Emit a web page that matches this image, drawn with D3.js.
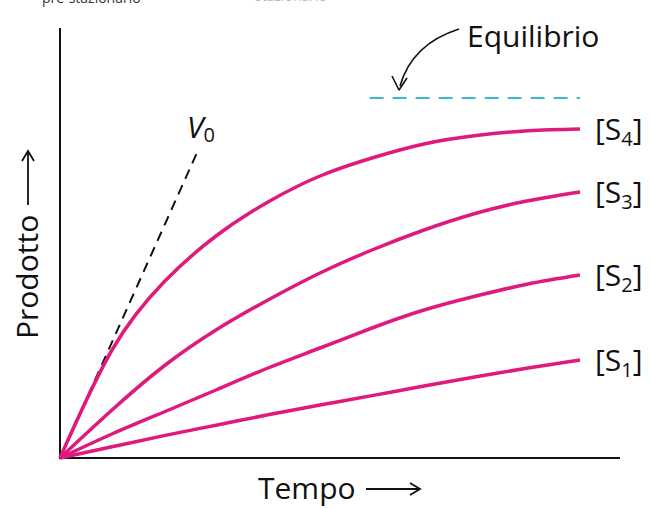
<!DOCTYPE html>
<html>
<head>
<meta charset="utf-8">
<script src="https://cdn.jsdelivr.net/npm/d3@7"></script>
<style>
  body { margin: 0; background: #fff; }
  svg text { font-family: "Open Sans", "Noto Sans", sans-serif; fill: #111; }
</style>
</head>
<body>
<div id="wrapper"></div>
<script>
// tempo (0-100) and prodotto (0-100)
const tempo = [0, 10, 20, 30, 40, 50, 60, 70, 80, 90, 100];
const s4 = [0, 27, 44, 55.5, 64, 70.5, 75, 78.5, 80.6, 81.8, 82.25];
const s3 = [0, 12, 23, 32, 39.5, 46.25, 52, 57, 61.2, 64.3, 66.5];
const s2 = [0, 6, 11.5, 17, 22.5, 27.5, 32.5, 37, 40.5, 43.5, 45.75];
const s1 = [0, 2.8, 5.6, 8.2, 10.8, 13.25, 15.6, 18, 20.3, 22.5, 24.5];
const seriesNames = ["4", "3", "2", "1"];
const v0Line = [[0, 0], [26.3, 76.2]];
const equilibrio = 90;
const equilibrioRange = [58, 100];

const series = [s4, s3, s2, s1];

const width = 651, height = 508;
const svg = d3.select("#wrapper").append("svg")
  .attr("width", width)
  .attr("height", height);

const xScale = d3.scaleLinear().domain([0, 100]).range([60, 580]);
const yScale = d3.scaleLinear().domain([0, 100]).range([458, 58]);

// captions cut off at the very top, as in the source figure
svg.append("text").attr("x", 42).attr("y", 3)
  .style("font-size", "14px").style("fill", "#333")
  .text("pre-stazionario");
svg.append("text").attr("x", 255).attr("y", 1)
  .style("font-size", "14px").style("fill", "#bbb")
  .text("stazionario");

// axes
svg.append("line")
  .attr("x1", xScale(0)).attr("x2", xScale(0))
  .attr("y1", 28).attr("y2", yScale(0) + 1)
  .attr("stroke", "#111").attr("stroke-width", 2);
svg.append("line")
  .attr("x1", xScale(0) - 1).attr("x2", 620)
  .attr("y1", yScale(0)).attr("y2", yScale(0))
  .attr("stroke", "#111").attr("stroke-width", 2);

// equilibrium
svg.append("line")
  .attr("x1", xScale(equilibrioRange[0]) + 8).attr("x2", xScale(equilibrioRange[1]))
  .attr("y1", yScale(equilibrio)).attr("y2", yScale(equilibrio))
  .attr("stroke", "#3cb9cf").attr("stroke-width", 2)
  .attr("stroke-dasharray", "14,9");

// V0 tangent
svg.append("line")
  .attr("x1", xScale(v0Line[0][0])).attr("y1", yScale(v0Line[0][1]))
  .attr("x2", xScale(v0Line[1][0])).attr("y2", yScale(v0Line[1][1]))
  .attr("stroke", "#111").attr("stroke-width", 2)
  .attr("stroke-dasharray", "10,7");

// curves
const lineGenerator = d3.line()
  .x((d, i) => xScale(tempo[i]))
  .y(d => yScale(d))
  .curve(d3.curveNatural);

svg.selectAll(".curve")
  .data(series)
  .enter().append("path")
  .attr("class", "curve")
  .attr("d", d => lineGenerator(d))
  .attr("fill", "none")
  .attr("stroke", "#e0197d")
  .attr("stroke-width", 3.5);

// series labels
const labels = svg.selectAll(".label")
  .data(series)
  .enter().append("text")
  .attr("class", "label")
  .attr("x", xScale(100) + 15)
  .attr("y", d => yScale(d[d.length - 1]) + 11)
  .style("font-size", "30px");
labels.append("tspan").text("[S");
labels.append("tspan").attr("dy", 6).style("font-size", "20px")
  .text((d, i) => seriesNames[i]);
labels.append("tspan").attr("dy", -6).text("]");

// V0 label
const v0Label = svg.append("text")
  .attr("x", 187).attr("y", 138)
  .style("font-size", "30px");
v0Label.append("tspan").style("font-style", "italic").text("V");
v0Label.append("tspan").attr("dy", 4).style("font-size", "20px").text("0");

// Equilibrio label + arrow
svg.append("text")
  .attr("x", 467).attr("y", 47)
  .style("font-size", "30px")
  .text("Equilibrio");
svg.append("path")
  .attr("d", "M459,29 Q412,44 400,86")
  .attr("fill", "none").attr("stroke", "#111").attr("stroke-width", 1.6);
svg.append("path")
  .attr("d", "M392,76 L399,90 L407,78")
  .attr("fill", "none").attr("stroke", "#111").attr("stroke-width", 1.6)
  .attr("stroke-linejoin", "round");

// axis titles
svg.append("text")
  .attr("x", 258).attr("y", 499)
  .style("font-size", "30px")
  .text("Tempo");
svg.append("line")
  .attr("x1", 366).attr("x2", 419).attr("y1", 489).attr("y2", 489)
  .attr("stroke", "#111").attr("stroke-width", 1.8);
svg.append("path")
  .attr("d", "M410,483 L420,489 L410,495")
  .attr("fill", "none").attr("stroke", "#111").attr("stroke-width", 1.8);

svg.append("text")
  .attr("transform", "translate(38,339) rotate(-90)")
  .style("font-size", "30px")
  .text("Prodotto");
svg.append("line")
  .attr("x1", 28).attr("x2", 28).attr("y1", 205).attr("y2", 152)
  .attr("stroke", "#111").attr("stroke-width", 1.8);
svg.append("path")
  .attr("d", "M22,161 L28,151 L34,161")
  .attr("fill", "none").attr("stroke", "#111").attr("stroke-width", 1.8);
</script>
</body>
</html>
